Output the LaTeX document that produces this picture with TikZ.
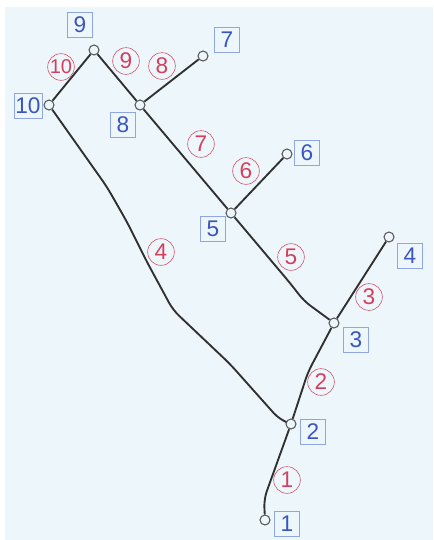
\documentclass[tikz,border=0pt]{standalone}
\usepackage{fontspec}
\setmainfont{Liberation Sans}
\definecolor{bgblue}{HTML}{EDF7FB}
\definecolor{pipegray}{HTML}{303030}
\definecolor{segred}{HTML}{D4405C}
\definecolor{numblue}{HTML}{3A55C0}
\definecolor{boxblue}{HTML}{90A6E2}

\begin{document}
\begin{tikzpicture}[x=.75pt, y=-.75pt,
  every node/.style={font=\fontsize{17}{17}\selectfont},
  joint/.style={circle, draw=pipegray!80, thick, minimum size=7.5pt, inner sep=0pt},
  pipe/.style={draw=pipegray, line width=1.4pt, rounded corners=6pt},
  num/.style={draw=boxblue, text=numblue, minimum size=19pt, inner sep=1pt},
  seg/.style={circle, draw=segred, text=segred, minimum size=20pt, inner sep=0pt}]
  \useasboundingbox (0,0) rectangle (433,540);
  \fill[white] (0,0) rectangle (433,540);
  \fill[bgblue] (5,7) rectangle (433,540);
  % joints
  \node[joint] (n1) at (265,520) {};
  \node[joint] (n2) at (291,424) {};
  \node[joint] (n3) at (334,323) {};
  \node[joint] (n4) at (389,237) {};
  \node[joint] (n5) at (231,213) {};
  \node[joint] (n6) at (287,154) {};
  \node[joint] (n7) at (203,56) {};
  \node[joint] (n8) at (140,105) {};
  \node[joint] (n9) at (94,50) {};
  \node[joint] (n10) at (49,105) {};
  % pipes
  \draw[pipe] (n1) -- (264,499) -- (n2);
  \draw[pipe] (n2) -- (308,372) -- (n3);
  \draw[pipe] (n3) -- (n4);
  \draw[pipe] (n5) -- (290,283) -- (304,301) -- (n3);
  \draw[pipe] (n5) -- (n6);
  \draw[pipe] (n5) -- (n8);
  \draw[pipe] (n8) -- (n7);
  \draw[pipe] (n8) -- (n9);
  \draw[pipe] (n9) -- (n10);
  \draw[pipe] (n10) -- (107,187) -- (127,222) -- (147,262) -- (173,310) -- (230,364) -- (279,419) -- (n2);
  % joint numbers
  \node[num] (b1) at (287,524) {1};
  \node[num] (b2) at (313,432) {2};
  \node[num] (b3) at (356,340) {3};
  \node[num] (b4) at (410,256) {4};
  \node[num] (b5) at (213,229) {5};
  \node[num] (b6) at (307,153) {6};
  \node[num] (b7) at (227,40) {7};
  \node[num] (b8) at (123,125) {8};
  \node[num] (b9) at (80,25) {9};
  \node[num] (b10) at (28,106) {10};
  % segment numbers
  \node[seg] (s1) at (287,480) {1};
  \node[seg] (s2) at (321,382) {2};
  \node[seg] (s3) at (369,297) {3};
  \node[seg] (s4) at (161,252) {4};
  \node[seg] (s5) at (291,257) {5};
  \node[seg] (s6) at (246,171) {6};
  \node[seg] (s7) at (201,144) {7};
  \node[seg] (s8) at (162,66) {8};
  \node[seg] (s9) at (126,61) {9};
  \node[seg, font=\fontsize{15}{15}\selectfont] (s10) at (61,67) {10};
\end{tikzpicture}
\end{document}
